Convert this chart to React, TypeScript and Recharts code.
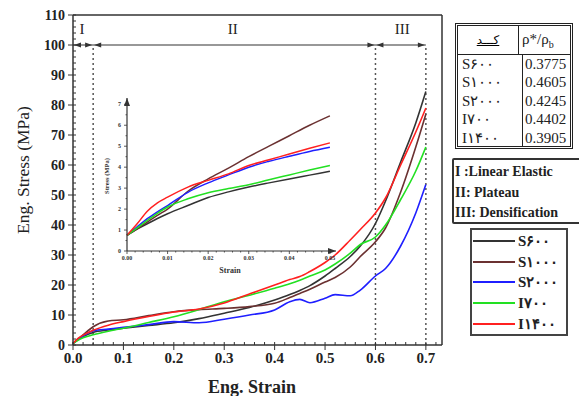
import React from "react";
import { LineChart, Line, XAxis, YAxis, ReferenceLine, ReferenceDot, Legend } from "recharts";

// main curves
const strain = [0, 0.01, 0.02, 0.04, 0.07, 0.1, 0.15, 0.2, 0.25, 0.3, 0.35, 0.4, 0.43, 0.45, 0.47, 0.5, 0.52, 0.55, 0.57, 0.6, 0.62, 0.65, 0.68, 0.7];
const s600 = [0.5, 1.8, 2.8, 4.2, 5.0, 5.6, 6.5, 7.4, 8.8, 10.6, 12.5, 15, 16.8, 18.2, 19.8, 23, 25.5, 29.5, 33, 40.5, 48, 61, 74, 84.5];
const s1000 = [0.5, 2.0, 3.4, 6.1, 8.0, 8.4, 9.8, 11.1, 11.8, 12.2, 12.8, 13.9, 15.8, 17.2, 18.6, 21, 22.5, 26, 29.5, 34.4, 39, 51, 66, 77];
const s2000 = [0.5, 1.9, 3.0, 4.7, 5.3, 5.9, 6.8, 7.8, 7.4, 8.6, 10, 11.7, 14.4, 15.2, 14.1, 15.6, 16.8, 16.4, 18.3, 23, 25.5, 33, 44, 53.5];
const i700 = [0.5, 1.6, 2.4, 3.4, 4.6, 5.6, 7.5, 9.4, 11.8, 14.4, 16.6, 18.9, 20.4, 21.6, 23, 25, 27, 30.6, 33.5, 36, 40, 48.5, 58, 66];
const i1400 = [0.5, 2.2, 3.3, 4.9, 6.6, 7.8, 9.5, 11.0, 12.0, 14, 17, 20, 21.8, 22.8, 24.5, 27.5, 30, 35, 38.5, 44, 49, 60, 71, 79];

// inset (small strain) curves
const insetStrain = [0, 0.0025, 0.005, 0.0075, 0.01, 0.015, 0.02, 0.025, 0.03, 0.035, 0.04, 0.045, 0.05];
const insetS600 = [0.75, 1.05, 1.3, 1.55, 1.78, 2.17, 2.55, 2.82, 3.05, 3.25, 3.44, 3.62, 3.8];
const insetS1000 = [0.75, 1.05, 1.38, 1.7, 2.0, 2.85, 3.44, 3.95, 4.5, 5.0, 5.5, 6.0, 6.45];
const insetS2000 = [0.75, 1.15, 1.54, 1.87, 2.17, 2.8, 3.25, 3.63, 4.0, 4.28, 4.52, 4.75, 4.95];
const insetI700 = [0.75, 1.1, 1.46, 1.8, 2.1, 2.49, 2.78, 2.98, 3.16, 3.4, 3.63, 3.86, 4.08];
const insetI1400 = [0.75, 1.3, 1.9, 2.3, 2.57, 3.05, 3.37, 3.68, 4.08, 4.35, 4.63, 4.9, 5.16];

const seriesKeys = ["s600", "s1000", "s2000", "i700", "i1400"];
const seriesNames = ["S۶۰۰", "S۱۰۰۰", "S۲۰۰۰", "I۷۰۰", "I۱۴۰۰"];
const seriesColors = ["#333333", "#6b3131", "#1f1fff", "#22e022", "#ff2020"];
const densityRatio = ["0.3775", "0.4605", "0.4245", "0.4402", "0.3905"];

const phaseBounds = [0, 0.04, 0.6, 0.7];
const phaseLabels = ["I", "II", "III"];
const phaseLabelX = [0.018, 0.317, 0.653];
const phaseNames = ["I :Linear Elastic", "II: Plateau", "III: Densification"];

const stressTicks = [0, 10, 20, 30, 40, 50, 60, 70, 80, 90, 100, 110];
const strainTicks = [0, 0.1, 0.2, 0.3, 0.4, 0.5, 0.6, 0.7];
const insetStressTicks = [0, 1, 2, 3, 4, 5, 6, 7];
const insetStrainTicks = [0, 0.01, 0.02, 0.03, 0.04, 0.05];

const stressMinor = Array.from({ length: 56 }, (_, i) => i * 2);
const strainMinor = Array.from({ length: 37 }, (_, i) => +(i * 0.02).toFixed(2));
const insetStressMinor = Array.from({ length: 15 }, (_, i) => i * 0.5);
const insetStrainMinor = Array.from({ length: 26 }, (_, i) => +(i * 0.002).toFixed(3));

const seriesValues = [s600, s1000, s2000, i700, i1400];
const insetValues = [insetS600, insetS1000, insetS2000, insetI700, insetI1400];

const mainData = strain.map((x, i) => {
  const row: Record<string, number> = { strain: x };
  seriesKeys.forEach((k, j) => (row[k] = seriesValues[j][i]));
  return row;
});
const insetData = insetStrain.map((x, i) => {
  const row: Record<string, number> = { strain: x };
  seriesKeys.forEach((k, j) => (row[k] = insetValues[j][i]));
  return row;
});

const FONT = '"Liberation Serif", "Times New Roman", serif';
const AX = "#333";

const isIn = (v: number, list: number[]) => list.some((t) => Math.abs(t - v) < 1e-7);

const MainYTick = ({ x, y, payload }: any) => {
  const major = isIn(payload.value, stressTicks);
  return (
    <g>
      <line x1={major ? x - 5 : x} x2={x + 3} y1={y} y2={y} stroke={AX} strokeWidth={1} />
      {major && (
        <text x={x - 8} y={y} dy={4.5} textAnchor="end" fontFamily={FONT} fontWeight="bold" fontSize={14} fill="#222">
          {payload.value}
        </text>
      )}
    </g>
  );
};

const MainXTick = ({ x, y, payload }: any) => {
  const major = isIn(payload.value, strainTicks);
  return (
    <g>
      <line x1={x} x2={x} y1={y - 3} y2={major ? y + 5 : y} stroke={AX} strokeWidth={1} />
      {major && (
        <text x={x} y={y + 18} textAnchor="middle" fontFamily={FONT} fontWeight="bold" fontSize={15} fill="#222">
          {payload.value.toFixed(1)}
        </text>
      )}
    </g>
  );
};

const InsetYTick = ({ x, y, payload }: any) => {
  const major = isIn(payload.value, insetStressTicks);
  return (
    <g>
      <line x1={x - (major ? 3 : 1.5)} x2={x} y1={y} y2={y} stroke={AX} strokeWidth={0.8} />
      {major && (
        <text x={x - 6} y={y} dy={2} textAnchor="end" fontFamily={FONT} fontWeight="bold" fontSize={6} fill="#333">
          {payload.value}
        </text>
      )}
    </g>
  );
};

const InsetXTick = ({ x, y, payload }: any) => {
  const major = isIn(payload.value, insetStrainTicks);
  return (
    <g>
      <line x1={x} x2={x} y1={y} y2={y + (major ? 3 : 1.5)} stroke={AX} strokeWidth={0.8} />
      {major && (
        <text x={x} y={y + 9} textAnchor="middle" fontFamily={FONT} fontWeight="bold" fontSize={6} fill="#333">
          {payload.value.toFixed(2)}
        </text>
      )}
    </g>
  );
};

const arrowHead = (dir: "left" | "right" | "up", size = 7, half = 2.6) => (props: any) => {
  const { cx, cy } = props;
  let pts = "";
  if (dir === "left") pts = `${cx},${cy} ${cx + size},${cy - half} ${cx + size},${cy + half}`;
  if (dir === "right") pts = `${cx},${cy} ${cx - size},${cy - half} ${cx - size},${cy + half}`;
  if (dir === "up") pts = `${cx},${cy} ${cx - half},${cy + size} ${cx + half},${cy + size}`;
  return <polygon points={pts} fill={AX} />;
};

const phaseArrows: { x: number; dir: "left" | "right" }[] = [];
phaseBounds.slice(0, -1).forEach((b, i) => {
  phaseArrows.push({ x: b + 0.002, dir: "left" });
  phaseArrows.push({ x: phaseBounds[i + 1] - 0.002, dir: "right" });
});

const LegendBox = ({ payload }: any) => {
  const items = [...(payload || [])].sort((a, b) => seriesNames.indexOf(a.value) - seriesNames.indexOf(b.value));
  return (
    <div style={{ border: "2px solid #444", background: "#fff", width: 98, height: 108, boxSizing: "border-box", paddingTop: 1 }}>
      {items.map((e: any) => (
        <div key={e.value} style={{ display: "flex", alignItems: "center", height: 20.6 }}>
          <svg width={45} height={4} style={{ marginLeft: 1 }}>
            <line x1={0} x2={42} y1={2} y2={2} stroke={e.color} strokeWidth={2} />
          </svg>
          <span style={{ fontFamily: FONT, fontWeight: "bold", fontSize: 15, color: "#222", lineHeight: "16px" }}>{e.value}</span>
        </div>
      ))}
    </div>
  );
};

const App: React.FC = () => {
  return (
    <div style={{ position: "absolute", left: 0, top: 0, width: 579, height: 396, background: "#fff", overflow: "hidden", fontFamily: FONT }}>
      <LineChart width={579} height={396} data={mainData} margin={{ top: 15, right: 137, bottom: 0, left: 0 }}>
        <XAxis
          dataKey="strain"
          type="number"
          domain={[0, 0.732]}
          ticks={strainMinor}
          interval={0}
          tickSize={0}
          tickMargin={0}
          tickLine={false}
          tick={<MainXTick />}
          height={51}
          stroke={AX}
          strokeWidth={1.5}
          label={() => (
            <text x={252} y={393} textAnchor="middle" fontFamily={FONT} fontWeight="bold" fontSize={18} fill="#222">
              Eng. Strain
            </text>
          )}
        />
        <YAxis
          type="number"
          domain={[0, 110]}
          ticks={stressMinor}
          interval={0}
          tickSize={0}
          tickMargin={0}
          tickLine={false}
          tick={<MainYTick />}
          width={73}
          stroke={AX}
          strokeWidth={1.5}
          label={() => (
            <text x={29} y={170} textAnchor="middle" transform="rotate(-90 29 170)" fontFamily={FONT} fontSize={17.5} fill="#222">
              Eng. Stress (MPa)
            </text>
          )}
        />
        <ReferenceLine y={110} stroke={AX} strokeWidth={1.5} />
        <ReferenceLine x={0.732} stroke={AX} strokeWidth={1.5} />
        <ReferenceLine segment={[{ x: phaseBounds[0], y: 100 }, { x: phaseBounds[3], y: 100 }]} stroke={AX} strokeWidth={1.2} />
        {phaseBounds.slice(1).map((b) => (
          <ReferenceLine key={b} segment={[{ x: b, y: 0 }, { x: b, y: 100 }]} stroke="#555" strokeWidth={1.5} strokeDasharray="2 3" />
        ))}
        {phaseArrows.map((a, i) => (
          <ReferenceDot key={i} x={a.x} y={100} r={0} shape={arrowHead(a.dir)} />
        ))}
        {phaseLabels.map((l, i) => (
          <ReferenceDot
            key={l}
            x={phaseLabelX[i]}
            y={105.5}
            r={1}
            fill="none"
            stroke="none"
            label={{ value: l, position: "center", fontFamily: FONT, fontSize: 15, fill: "#222" }}
          />
        ))}
        {seriesKeys.map((k, i) => (
          <Line key={k} dataKey={k} name={seriesNames[i]} stroke={seriesColors[i]} strokeWidth={1.6} dot={false} type="monotone" isAnimationActive={false} />
        ))}
        <Legend
          layout="vertical"
          align="center"
          verticalAlign="middle"
          content={<LegendBox />}
          wrapperStyle={{ left: 470, top: 228, width: 98, height: 108 }}
        />
      </LineChart>

      {/* inset: small strain region */}
      <div style={{ position: "absolute", left: 100, top: 90, width: 240, height: 190 }}>
        <LineChart width={240} height={190} data={insetData} margin={{ top: 8, right: 4, bottom: 0, left: 0 }}>
          <XAxis
            dataKey="strain"
            type="number"
            domain={[0, 0.0515]}
            ticks={insetStrainMinor}
            interval={0}
            tickSize={0}
            tickMargin={0}
            tickLine={false}
            tick={<InsetXTick />}
            height={29}
            stroke={AX}
            strokeWidth={1.2}
            label={() => (
              <text x={130} y={183} textAnchor="middle" fontFamily={FONT} fontWeight="bold" fontSize={8} fill="#333">
                Strain
              </text>
            )}
          />
          <YAxis
            type="number"
            domain={[0, 7.3]}
            ticks={insetStressMinor}
            interval={0}
            tickSize={0}
            tickMargin={0}
            tickLine={false}
            tick={<InsetYTick />}
            width={27}
            stroke={AX}
            strokeWidth={1.2}
            label={() => (
              <text x={9} y={86} textAnchor="middle" transform="rotate(-90 9 86)" fontFamily={FONT} fontWeight="bold" fontSize={6.5} fill="#333">
                Stress (MPa)
              </text>
            )}
          />
          <ReferenceDot x={0} y={7.3} r={0} shape={arrowHead("up", 8, 3)} />
          <ReferenceDot x={0.0515} y={0} r={0} shape={arrowHead("right", 8, 3)} />
          {seriesKeys.map((k, i) => (
            <Line key={k} dataKey={k} name={seriesNames[i]} stroke={seriesColors[i]} strokeWidth={1.5} dot={false} type="monotone" isAnimationActive={false} />
          ))}
        </LineChart>
      </div>

      {/* density table */}
      <div style={{ position: "absolute", left: 455, top: 23, width: 118, height: 126, border: "3px double #222", boxSizing: "border-box", background: "#fff" }}>
        <div style={{ display: "flex", height: 28, borderBottom: "1.5px solid #222" }}>
          <div style={{ width: 60, borderRight: "1.5px solid #222", display: "flex", alignItems: "center", justifyContent: "center" }}>
            <span style={{ fontFamily: "DejaVu Sans", fontSize: 12, textDecoration: "underline" }}>کـــد</span>
          </div>
          <div style={{ flex: 1, display: "flex", alignItems: "center", paddingLeft: 3, fontSize: 15, color: "#222" }}>
            <span>
              ρ*/ρ<sub style={{ fontSize: 10 }}>b</sub>
            </span>
          </div>
        </div>
        {seriesNames.map((n, i) => (
          <div key={n} style={{ display: "flex", height: 18.4 }}>
            <div style={{ width: 60, borderRight: "1.5px solid #222", paddingLeft: 4, fontSize: 15, lineHeight: "18px", color: "#222" }}>{n}</div>
            <div style={{ flex: 1, paddingLeft: 2, fontSize: 15, lineHeight: "18px", color: "#222" }}>{densityRatio[i]}</div>
          </div>
        ))}
      </div>

      {/* phase legend */}
      <div style={{ position: "absolute", left: 452, top: 158, width: 131, height: 66, border: "2px solid #333", borderRadius: 2, boxSizing: "border-box", background: "#fff", paddingTop: 2 }}>
        {phaseNames.map((p) => (
          <div key={p} style={{ fontWeight: "bold", fontSize: 14, lineHeight: "20.5px", color: "#222", paddingLeft: 1, whiteSpace: "nowrap" }}>
            {p}
          </div>
        ))}
      </div>
    </div>
  );
};

export default App;
